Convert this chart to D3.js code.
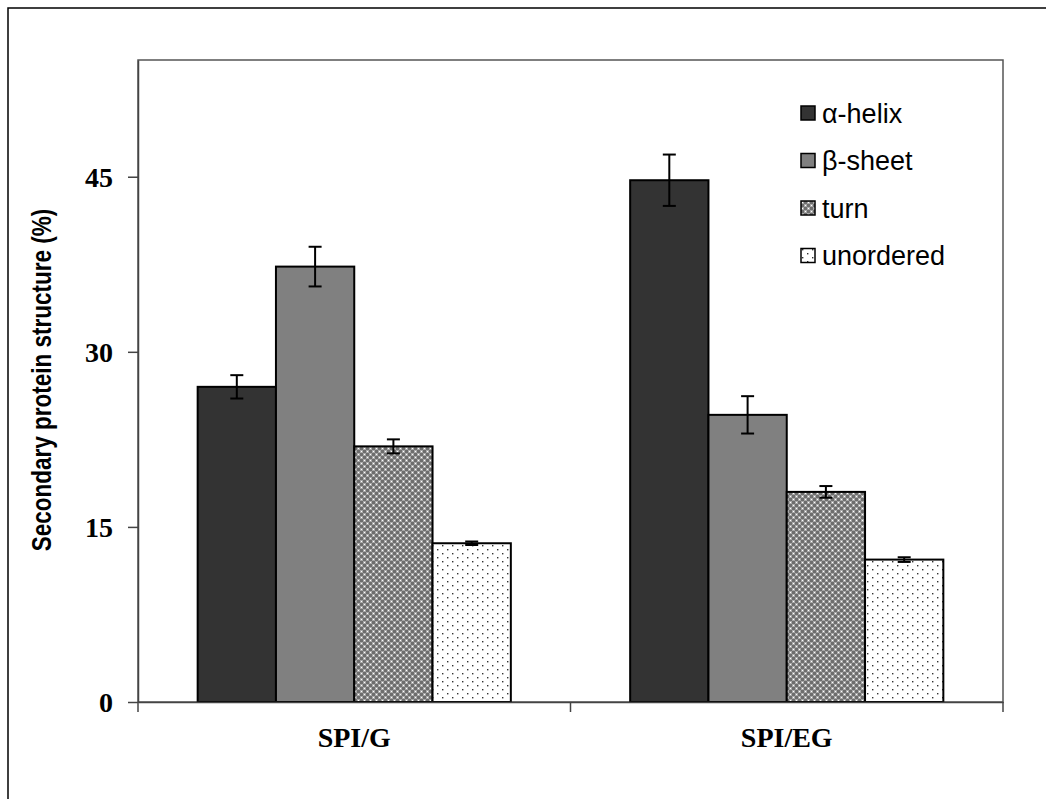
<!DOCTYPE html>
<html><head><meta charset="utf-8">
<script src="https://cdn.jsdelivr.net/npm/d3@7"></script>
<style>body{margin:0;background:#fff}</style>
</head><body>
<script>
const categories = ["SPI/G", "SPI/EG"];
const seriesNames = ["α-helix", "β-sheet", "turn", "unordered"];
const alphaHelix = [27.0, 44.7];
const betaSheet = [37.3, 24.6];
const turn = [21.9, 18.0];
const unordered = [13.6, 12.2];
const alphaErr = [1.0, 2.2];
const betaErr = [1.7, 1.6];
const turnErr = [0.6, 0.5];
const unorderedErr = [0.15, 0.2];
const yTicks = [0, 15, 30, 45];

const values = [alphaHelix, betaSheet, turn, unordered];
const errs = [alphaErr, betaErr, turnErr, unorderedErr];

const W = 1046, H = 799;
const svg = d3.select("body").append("svg").attr("width", W).attr("height", H);

const defs = svg.append("defs");
const pt = defs.append("pattern").attr("id","pTurn").attr("patternUnits","userSpaceOnUse").attr("width",6).attr("height",6);
pt.append("rect").attr("width",6).attr("height",6).attr("fill","#6e6e6e");
pt.append("rect").attr("x",0).attr("y",0).attr("width",3).attr("height",3).attr("fill","#a8a8a8");
pt.append("rect").attr("x",3).attr("y",3).attr("width",3).attr("height",3).attr("fill","#a8a8a8");
pt.append("rect").attr("x",1).attr("y",1).attr("width",1).attr("height",1).attr("fill","#fff");
pt.append("rect").attr("x",4).attr("y",4).attr("width",1).attr("height",1).attr("fill","#fff");
const pu = defs.append("pattern").attr("id","pUn").attr("patternUnits","userSpaceOnUse").attr("width",10).attr("height",8);
pu.append("rect").attr("width",10).attr("height",8).attr("fill","#fff");
pu.append("rect").attr("x",2).attr("y",1).attr("width",1.4).attr("height",1.4).attr("fill","#333");
pu.append("rect").attr("x",7).attr("y",5).attr("width",1.4).attr("height",1.4).attr("fill","#333");

const fills = ["#333333", "#808080", "url(#pTurn)", "url(#pUn)"];

svg.append("rect").attr("x",8).attr("y",8).attr("width",1060).attr("height",820)
  .attr("fill","none").attr("stroke","#000").attr("stroke-width",1.5);

const mLeft = 138, mRight = 1003, mTop = 60, mBottom = 702;
const x0 = d3.scaleBand().domain(categories).range([mLeft, mRight]).paddingInner(0).paddingOuter(0);
const x1 = d3.scaleBand().domain(seriesNames).range([0, x0.bandwidth()]).paddingOuter(0.762).paddingInner(0);
const y = d3.scaleLinear().domain([0, 55]).range([mBottom, mTop]);

svg.append("rect").attr("x",mLeft).attr("y",mTop).attr("width",mRight-mLeft).attr("height",mBottom-mTop)
  .attr("fill","none").attr("stroke","#555").attr("stroke-width",1.5);

categories.forEach((c, ci) => {
  seriesNames.forEach((s, si) => {
    const v = values[si][ci];
    svg.append("rect")
      .attr("x", x0(c) + x1(s)).attr("y", y(v))
      .attr("width", x1.bandwidth()).attr("height", y(0) - y(v))
      .attr("fill", fills[si]).attr("stroke", "#000").attr("stroke-width", 2);
  });
});
categories.forEach((c, ci) => {
  seriesNames.forEach((s, si) => {
    const v = values[si][ci], e = errs[si][ci];
    const cx = x0(c) + x1(s) + x1.bandwidth()/2;
    const g = svg.append("g").attr("stroke","#000").attr("stroke-width",2);
    g.append("line").attr("x1",cx).attr("x2",cx).attr("y1",y(v+e)).attr("y2",y(v-e));
    g.append("line").attr("x1",cx-6.5).attr("x2",cx+6.5).attr("y1",y(v+e)).attr("y2",y(v+e));
    g.append("line").attr("x1",cx-6.5).attr("x2",cx+6.5).attr("y1",y(v-e)).attr("y2",y(v-e));
  });
});

const yAxis = svg.append("g").attr("transform",`translate(${mLeft},0)`)
  .call(d3.axisLeft(y).tickValues(yTicks).tickSize(10).tickPadding(15).tickSizeOuter(0));
yAxis.select(".domain").attr("stroke","#444").attr("stroke-width",1.5);
yAxis.selectAll(".tick line").attr("stroke","#444").attr("stroke-width",1.5);
yAxis.selectAll("text").attr("font-family","'Liberation Serif', 'Times New Roman', serif")
  .attr("font-weight","bold").attr("font-size",28).attr("fill","#000").attr("dy","0.35em");

const xAxis = svg.append("g").attr("transform",`translate(0,${mBottom})`)
  .call(d3.axisBottom(x0).tickSize(0).tickPadding(25).tickSizeOuter(0));
xAxis.select(".domain").attr("stroke","#444").attr("stroke-width",1.5);
xAxis.selectAll("text").attr("font-family","'Liberation Serif', 'Times New Roman', serif")
  .attr("font-weight","bold").attr("font-size",28).attr("fill","#000");
[mLeft, x0(categories[1]), mRight].forEach(px => {
  svg.append("line").attr("x1",px).attr("x2",px).attr("y1",mBottom).attr("y2",mBottom+10)
    .attr("stroke","#444").attr("stroke-width",1.5);
});

svg.append("text").attr("transform","translate(42,380) rotate(-90) scale(1,1.2)")
  .attr("text-anchor","middle").attr("dominant-baseline","central")
  .attr("font-family","'Liberation Sans', Arial, sans-serif")
  .attr("font-weight","bold").attr("font-size",22.5).text("Secondary protein structure (%)");

const leg = svg.append("g");
seriesNames.forEach((s, i) => {
  const ly = 113 + i * 47.5;
  leg.append("rect").attr("x",801).attr("y",ly-7).attr("width",14).attr("height",14)
    .attr("fill", fills[i]).attr("stroke","#000").attr("stroke-width",1.5);
  leg.append("text").attr("x",822).attr("y",ly).attr("dy","0.36em")
    .attr("font-family","'Liberation Sans', Arial, sans-serif").attr("font-size",27)
    .text(s);
});
</script>
</body></html>
